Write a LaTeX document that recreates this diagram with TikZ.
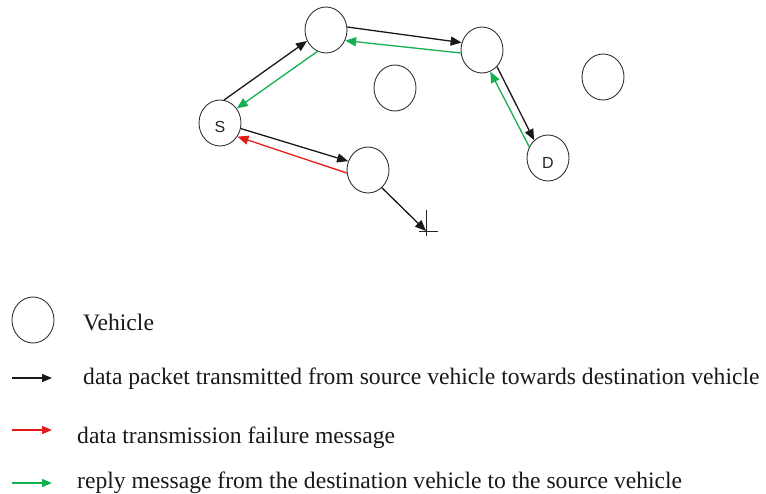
\documentclass[tikz,border=0pt]{standalone}
\usepackage{fontspec}
\setmainfont{Liberation Serif}
\newfontfamily\labfont{Liberation Sans}
\usetikzlibrary{shapes.geometric,arrows.meta}
\definecolor{arrgreen}{RGB}{20,175,80}
\definecolor{arrred}{RGB}{230,25,25}
\tikzset{
  veh/.style={ellipse,draw=black!80,line width=0.9pt,minimum width=42pt,minimum height=46pt,inner sep=0pt},
  vlab/.style={font=\labfont\fontsize{16}{16}\selectfont,text=black!85},
  conn/.style={line width=1.3pt,-{Triangle[length=11pt,width=9pt]}},
  dataarr/.style={conn,draw=black!90},
  greenarr/.style={conn,draw=arrgreen},
  redarr/.style={conn,draw=arrred},
  legtext/.style={anchor=base west,font=\fontsize{23.6}{26}\selectfont,text=black!90,inner sep=0pt},
  legarr/.style={line width=1.3pt,-{Triangle[length=10pt,width=8pt]}}
}
\begin{document}
\begin{tikzpicture}[x=1pt,y=-1pt]
\useasboundingbox (0,0) rectangle (766,493);
% vehicles
\node[veh,label={[vlab,yshift=-4pt]center:S}] (S) at (220,123) {};
\node[veh] (N1) at (326,30) {};
\node[veh] (N2) at (395,88) {};
\node[veh] (N3) at (368,170) {};
\node[veh] (N4) at (482,50) {};
\node[veh,label={[vlab,yshift=-5pt]center:D}] (D) at (548,158) {};
\node[veh] (N5) at (603,77) {};
\coordinate (X) at (426,231);
% cross (failure point)
\draw[line width=0.9pt,black!85] ([xshift=-7pt]X) -- ([xshift=12pt]X);
\draw[line width=0.9pt,black!85] ([yshift=-5pt]X) -- ([yshift=21pt]X);
% connectors
\draw[dataarr] (S.80) -- (N1.210);
\draw[greenarr] (N1.248) -- (S.41);
\draw[dataarr] (N1.8) -- (N4.160);
\draw[greenarr] (N4.188) -- (N1.331);
\draw[dataarr] (N4.312) -- (D.128);
\draw[greenarr] (D.149) -- (N4.291);
\draw[dataarr] (S.345) -- (N3.156);
\draw[redarr] (N3.188) -- (S.322);
\draw[dataarr] (N3.308) -- (X);
% legend
\node[veh] (LV) at (33,320) {};
\node[legtext] (T1) at (83,330) {Vehicle};
\coordinate (LA1) at (12,378); \coordinate (LB1) at (52,378);
\coordinate (LA2) at (12,430); \coordinate (LB2) at (52,430);
\coordinate (LA3) at (12,483); \coordinate (LB3) at (52,483);
\draw[legarr,draw=black!90] (LA1) -- (LB1);
\draw[legarr,draw=arrred] (LA2) -- (LB2);
\draw[legarr,draw=arrgreen] (LA3) -- (LB3);
\node[legtext] (T2) at (83,384) {data packet transmitted from source vehicle towards destination vehicle};
\node[legtext] (T3) at (77,443) {data transmission failure message};
\node[legtext] (T4) at (77,488) {reply message from the destination vehicle to the source vehicle};
\end{tikzpicture}
\end{document}
